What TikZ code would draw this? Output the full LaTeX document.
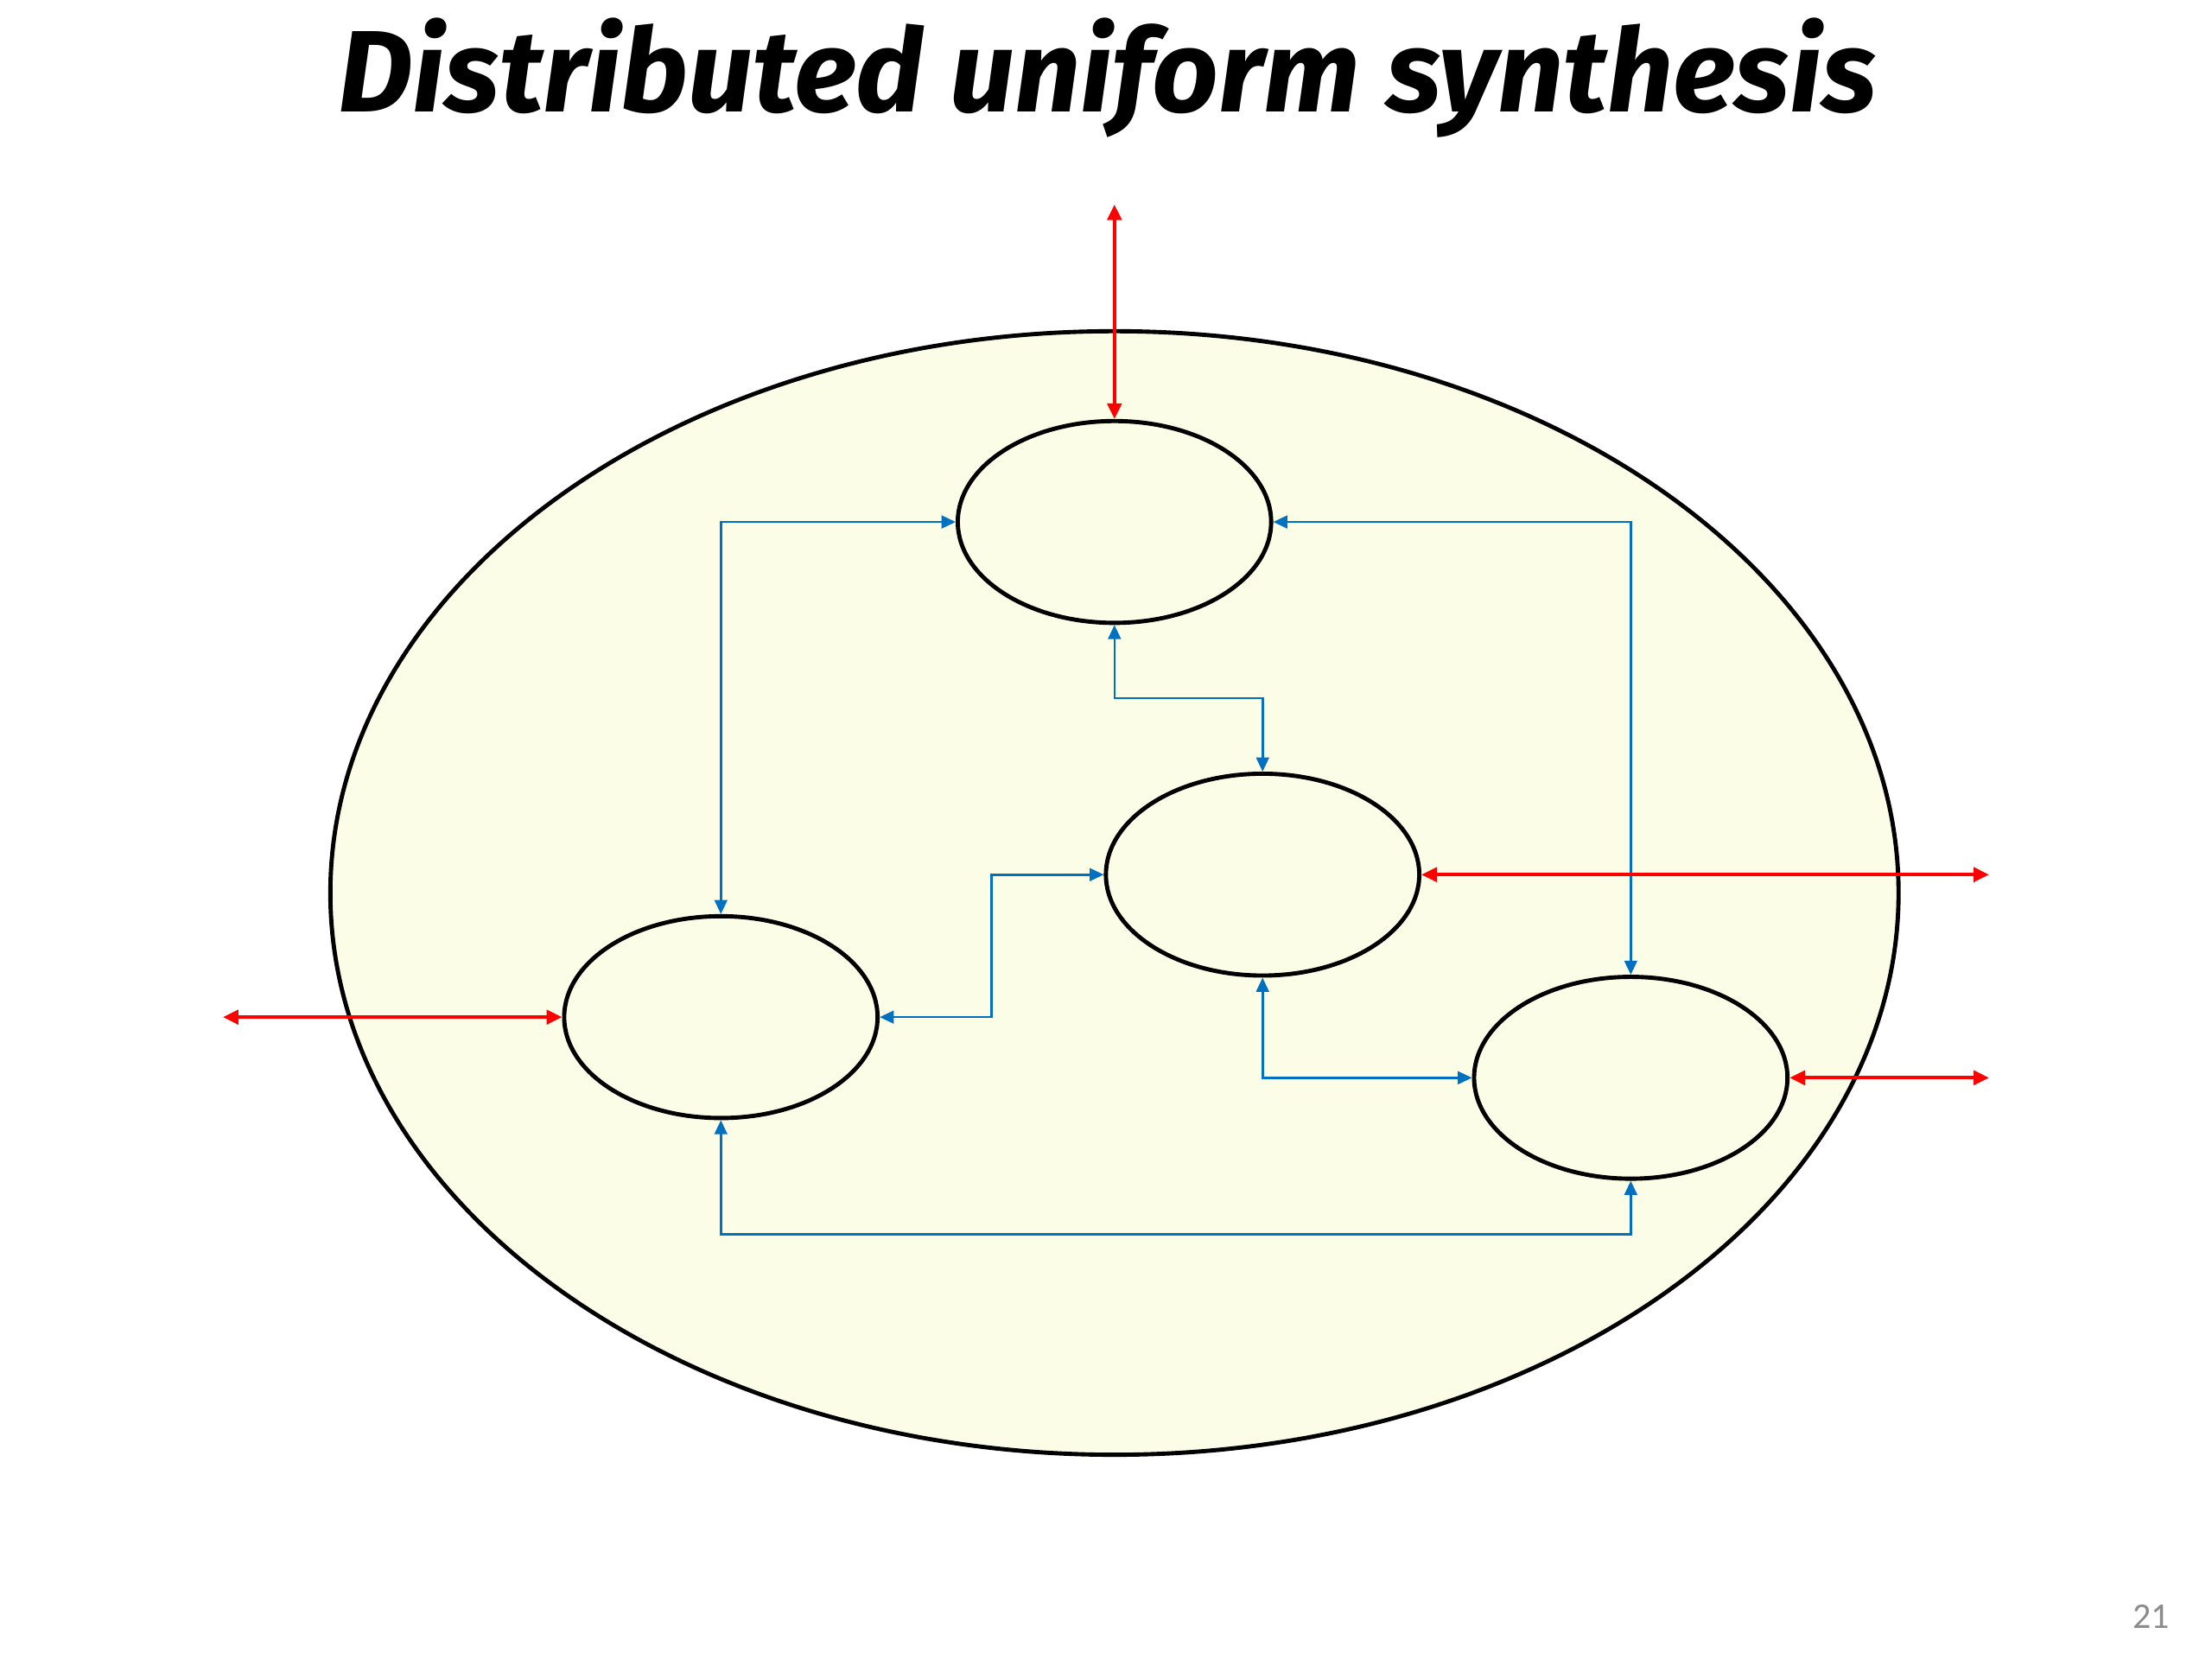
\documentclass[tikz,border=0pt]{standalone}
\usepackage{fontspec}
\setmainfont{Carlito}
\newfontfamily\titlefont{Fira Sans}
\usetikzlibrary{shapes.geometric,arrows.meta}
\definecolor{sysfill}{HTML}{FCFDE6}
\definecolor{linkblue}{HTML}{0070C0}
\definecolor{extred}{HTML}{FF0000}
\definecolor{pagegray}{HTML}{8C8C8C}
\begin{document}
\begin{tikzpicture}[x=0.01cm,y=-0.01cm,
  sysbox/.style={draw=black,line width=0.85pt,fill=sysfill,ellipse,inner sep=0pt,
    minimum width=11.11cm,minimum height=7.96cm},
  procbox/.style={draw=black,line width=0.85pt,ellipse,inner sep=0pt,
    minimum width=2.22cm,minimum height=1.43cm},
  bluelink/.style={draw=linkblue,line width=0.45pt,
    {Triangle[length=0.1cm,width=0.09cm]}-{Triangle[length=0.1cm,width=0.09cm]}},
  redlink/.style={draw=extred,line width=0.75pt,
    {Triangle[length=0.11cm,width=0.1cm]}-{Triangle[length=0.11cm,width=0.1cm]}}]
\useasboundingbox (0,0) rectangle (1568,1176);
\node[sysbox] (sys) at (790,633) {};
\node[procbox] (A) at (790,370) {};
\node[procbox] (B) at (895,620) {};
\node[procbox] (C) at (511,721) {};
\node[procbox] (D) at (1156,764) {};
\coordinate (topend) at (790,145);
\coordinate (rightend1) at (1410,620);
\coordinate (leftend) at (158,721);
\coordinate (rightend2) at (1410,764);
% blue links
\draw[bluelink] (A.west) -| (C.north);
\draw[bluelink] (A.east) -| (D.north);
\draw[bluelink] (A.south) -- (A.south |- 0,495) -| (B.north);
\draw[bluelink] (B.west) -- (B.west -| 703,0) |- (C.east);
\draw[bluelink] (B.south) |- (D.west);
\draw[bluelink] (C.south) -- (C.south |- 0,875) -| (D.south);
% red links
\draw[redlink] (topend) -- (A.north);
\draw[redlink] (B.east) -- (rightend1);
\draw[redlink] (leftend) -- (C.west);
\draw[redlink] (D.east) -- (rightend2);
% title and page number
\node (title) at (785,55) {\resizebox{10.9cm}{!}{\titlefont\bfseries\itshape Distributed uniform synthesis}};
\node[text=pagegray,font=\fontsize{7.3}{8}\selectfont] (pnum) at (1525,1146) {21};
\end{tikzpicture}
\end{document}
